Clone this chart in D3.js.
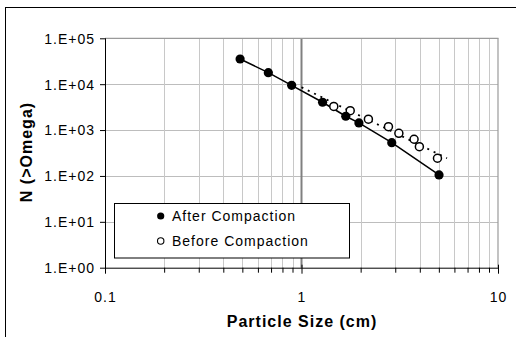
<!DOCTYPE html>
<html>
<head>
<meta charset="utf-8">
<script src="https://cdn.jsdelivr.net/npm/d3@7/dist/d3.min.js"></script>
<style>
  html, body { margin: 0; padding: 0; background: #fff; }
  svg { display: block; }
  text { font-family: "Liberation Sans", Arial, sans-serif; fill: #000; }
</style>
</head>
<body>
<svg id="chart" width="516" height="337"></svg>
<script>
// ---- Data ----
const afterSize = [0.487, 0.678, 0.891, 1.28, 1.68, 1.96, 2.88, 5.01];
const afterN    = [35400, 17800, 9460, 4040, 2000, 1430, 532, 105];

const beforeSize = [1.46, 1.77, 2.19, 2.77, 3.13, 3.74, 3.98, 4.92];
const beforeN    = [3270, 2650, 1730, 1185, 851, 631, 434, 243];

// dotted trend line for "Before Compaction" (end points)
const trendSize = [1.0, 5.5];
const trendN    = [8550, 243];

const xMajorTicks = [0.1, 1, 10];
const xMinorTicks = [0.2, 0.3, 0.4, 0.5, 0.6, 0.7, 0.8, 0.9, 2, 3, 4, 5, 6, 7, 8, 9];
const yTicks = [1, 10, 100, 1000, 10000, 100000];
const yTickLabels = ["1.E+00", "1.E+01", "1.E+02", "1.E+03", "1.E+04", "1.E+05"];
const legendLabels = ["After Compaction", "Before Compaction"];
const xTitle = "Particle Size (cm)";
const yTitle = "N (>Omega)";

// ---- Layout ----
const L = 105, R = 498, T = 38.3, B = 267.7;
const svg = d3.select("#chart");

const x = d3.scaleLog().domain([0.1, 10]).range([L, R]);
const y = d3.scaleLog().domain([1, 100000]).range([B, T]);

// outer frame (top and left visible)
svg.append("line").attr("x1", 5).attr("x2", 516).attr("y1", 7.5).attr("y2", 7.5)
  .attr("stroke", "#000").attr("stroke-width", 1);
svg.append("line").attr("x1", 5.5).attr("x2", 5.5).attr("y1", 7).attr("y2", 337)
  .attr("stroke", "#000").attr("stroke-width", 1);

// gridlines
const grid = svg.append("g");
grid.selectAll(".hg").data(yTicks.slice(1, -1)).enter().append("line")
  .attr("x1", L).attr("x2", R)
  .attr("y1", d => Math.round(y(d)) + 0.5).attr("y2", d => Math.round(y(d)) + 0.5)
  .attr("stroke", "#bdbdbd").attr("stroke-width", 1);
grid.selectAll(".vg").data(xMinorTicks).enter().append("line")
  .attr("x1", d => Math.round(x(d)) + 0.5).attr("x2", d => Math.round(x(d)) + 0.5)
  .attr("y1", T).attr("y2", B)
  .attr("stroke", "#c8c8c8").attr("stroke-width", 1);
// major vertical gridline at 1
grid.append("line")
  .attr("x1", x(1)).attr("x2", x(1)).attr("y1", T).attr("y2", B)
  .attr("stroke", "#808080").attr("stroke-width", 2);

// plot area border (top & right)
svg.append("line").attr("x1", L).attr("x2", R + 0.5).attr("y1", T).attr("y2", T)
  .attr("stroke", "#9a9a9a").attr("stroke-width", 1.2);
svg.append("line").attr("x1", R).attr("x2", R).attr("y1", T).attr("y2", B)
  .attr("stroke", "#9a9a9a").attr("stroke-width", 1.2);

// y axis
const yAxis = svg.append("g").attr("transform", `translate(${L},0)`)
  .call(d3.axisLeft(y).tickValues(yTicks).tickSize(5).tickSizeOuter(0)
    .tickFormat((d, i) => yTickLabels[i]));
yAxis.select(".domain").attr("stroke", "#000").attr("d", `M0.5,${T}V${B + 5}`);
yAxis.selectAll(".tick line").attr("stroke", "#000");
yAxis.selectAll(".tick text")
  .attr("x", -10).attr("dy", "0.35em")
  .style("font-size", "14px").style("letter-spacing", "1px");

// x axis minor ticks
const xMinor = svg.append("g").attr("transform", `translate(0,${B})`)
  .call(d3.axisBottom(x).tickValues(xMinorTicks).tickSize(5).tickSizeOuter(0).tickFormat(""));
xMinor.select(".domain").remove();
xMinor.selectAll(".tick line").attr("stroke", "#000");

// x axis major
const xAxis = svg.append("g").attr("transform", `translate(0,${B})`)
  .call(d3.axisBottom(x).tickValues(xMajorTicks).tickSize(5).tickSizeOuter(0)
    .tickFormat(d => d3.format("~g")(d)));
xAxis.select(".domain").attr("stroke", "#000").attr("d", `M${L},0.5H${R}`);
xAxis.selectAll(".tick line").attr("stroke", "#000").attr("y1", -3).attr("y2", 6);
xAxis.selectAll(".tick text")
  .attr("y", 34).attr("dy", 0)
  .style("font-size", "14px").style("letter-spacing", "1px");

// ---- Series ----
const line = d3.line().x(d => x(d[0])).y(d => y(d[1]));

// dotted trendline for Before
svg.append("path")
  .datum(trendSize.map((s, i) => [s, trendN[i]]))
  .attr("d", line)
  .attr("fill", "none").attr("stroke", "#000").attr("stroke-width", 1.8)
  .attr("stroke-dasharray", "2,5");

// solid line for After
svg.append("path")
  .datum(afterSize.map((s, i) => [s, afterN[i]]))
  .attr("d", line)
  .attr("fill", "none").attr("stroke", "#000").attr("stroke-width", 1.5);

// Before markers (open)
svg.selectAll(".bm").data(beforeSize.map((s, i) => [s, beforeN[i]])).enter().append("circle")
  .attr("cx", d => x(d[0])).attr("cy", d => y(d[1])).attr("r", 4)
  .attr("fill", "#fff").attr("stroke", "#000").attr("stroke-width", 1.5);

// After markers (filled)
svg.selectAll(".am").data(afterSize.map((s, i) => [s, afterN[i]])).enter().append("circle")
  .attr("cx", d => x(d[0])).attr("cy", d => y(d[1])).attr("r", 4.6)
  .attr("fill", "#000");

// ---- Legend ----
const lg = svg.append("g");
lg.append("rect").attr("x", 114.5).attr("y", 203.5).attr("width", 235).attr("height", 54.5)
  .attr("fill", "#fff").attr("stroke", "#000").attr("stroke-width", 1);
lg.append("circle").attr("cx", 160.7).attr("cy", 216).attr("r", 3.6).attr("fill", "#000");
lg.append("circle").attr("cx", 160.7).attr("cy", 241).attr("r", 3.2)
  .attr("fill", "#fff").attr("stroke", "#000").attr("stroke-width", 1.1);
lg.selectAll(".lt").data(legendLabels).enter().append("text")
  .attr("x", 172).attr("y", (d, i) => 221 + i * 25)
  .style("font-size", "14px").style("letter-spacing", "1px")
  .text(d => d);

// ---- Axis titles ----
svg.append("text")
  .attr("x", 302).attr("y", 326.5).attr("text-anchor", "middle")
  .style("font-size", "16px").style("font-weight", "bold").style("letter-spacing", "1px")
  .text(xTitle);
svg.append("text")
  .attr("transform", `translate(32,152) rotate(-90)`).attr("text-anchor", "middle")
  .style("font-size", "16px").style("font-weight", "bold").style("letter-spacing", "1px")
  .text(yTitle);
</script>
</body>
</html>
